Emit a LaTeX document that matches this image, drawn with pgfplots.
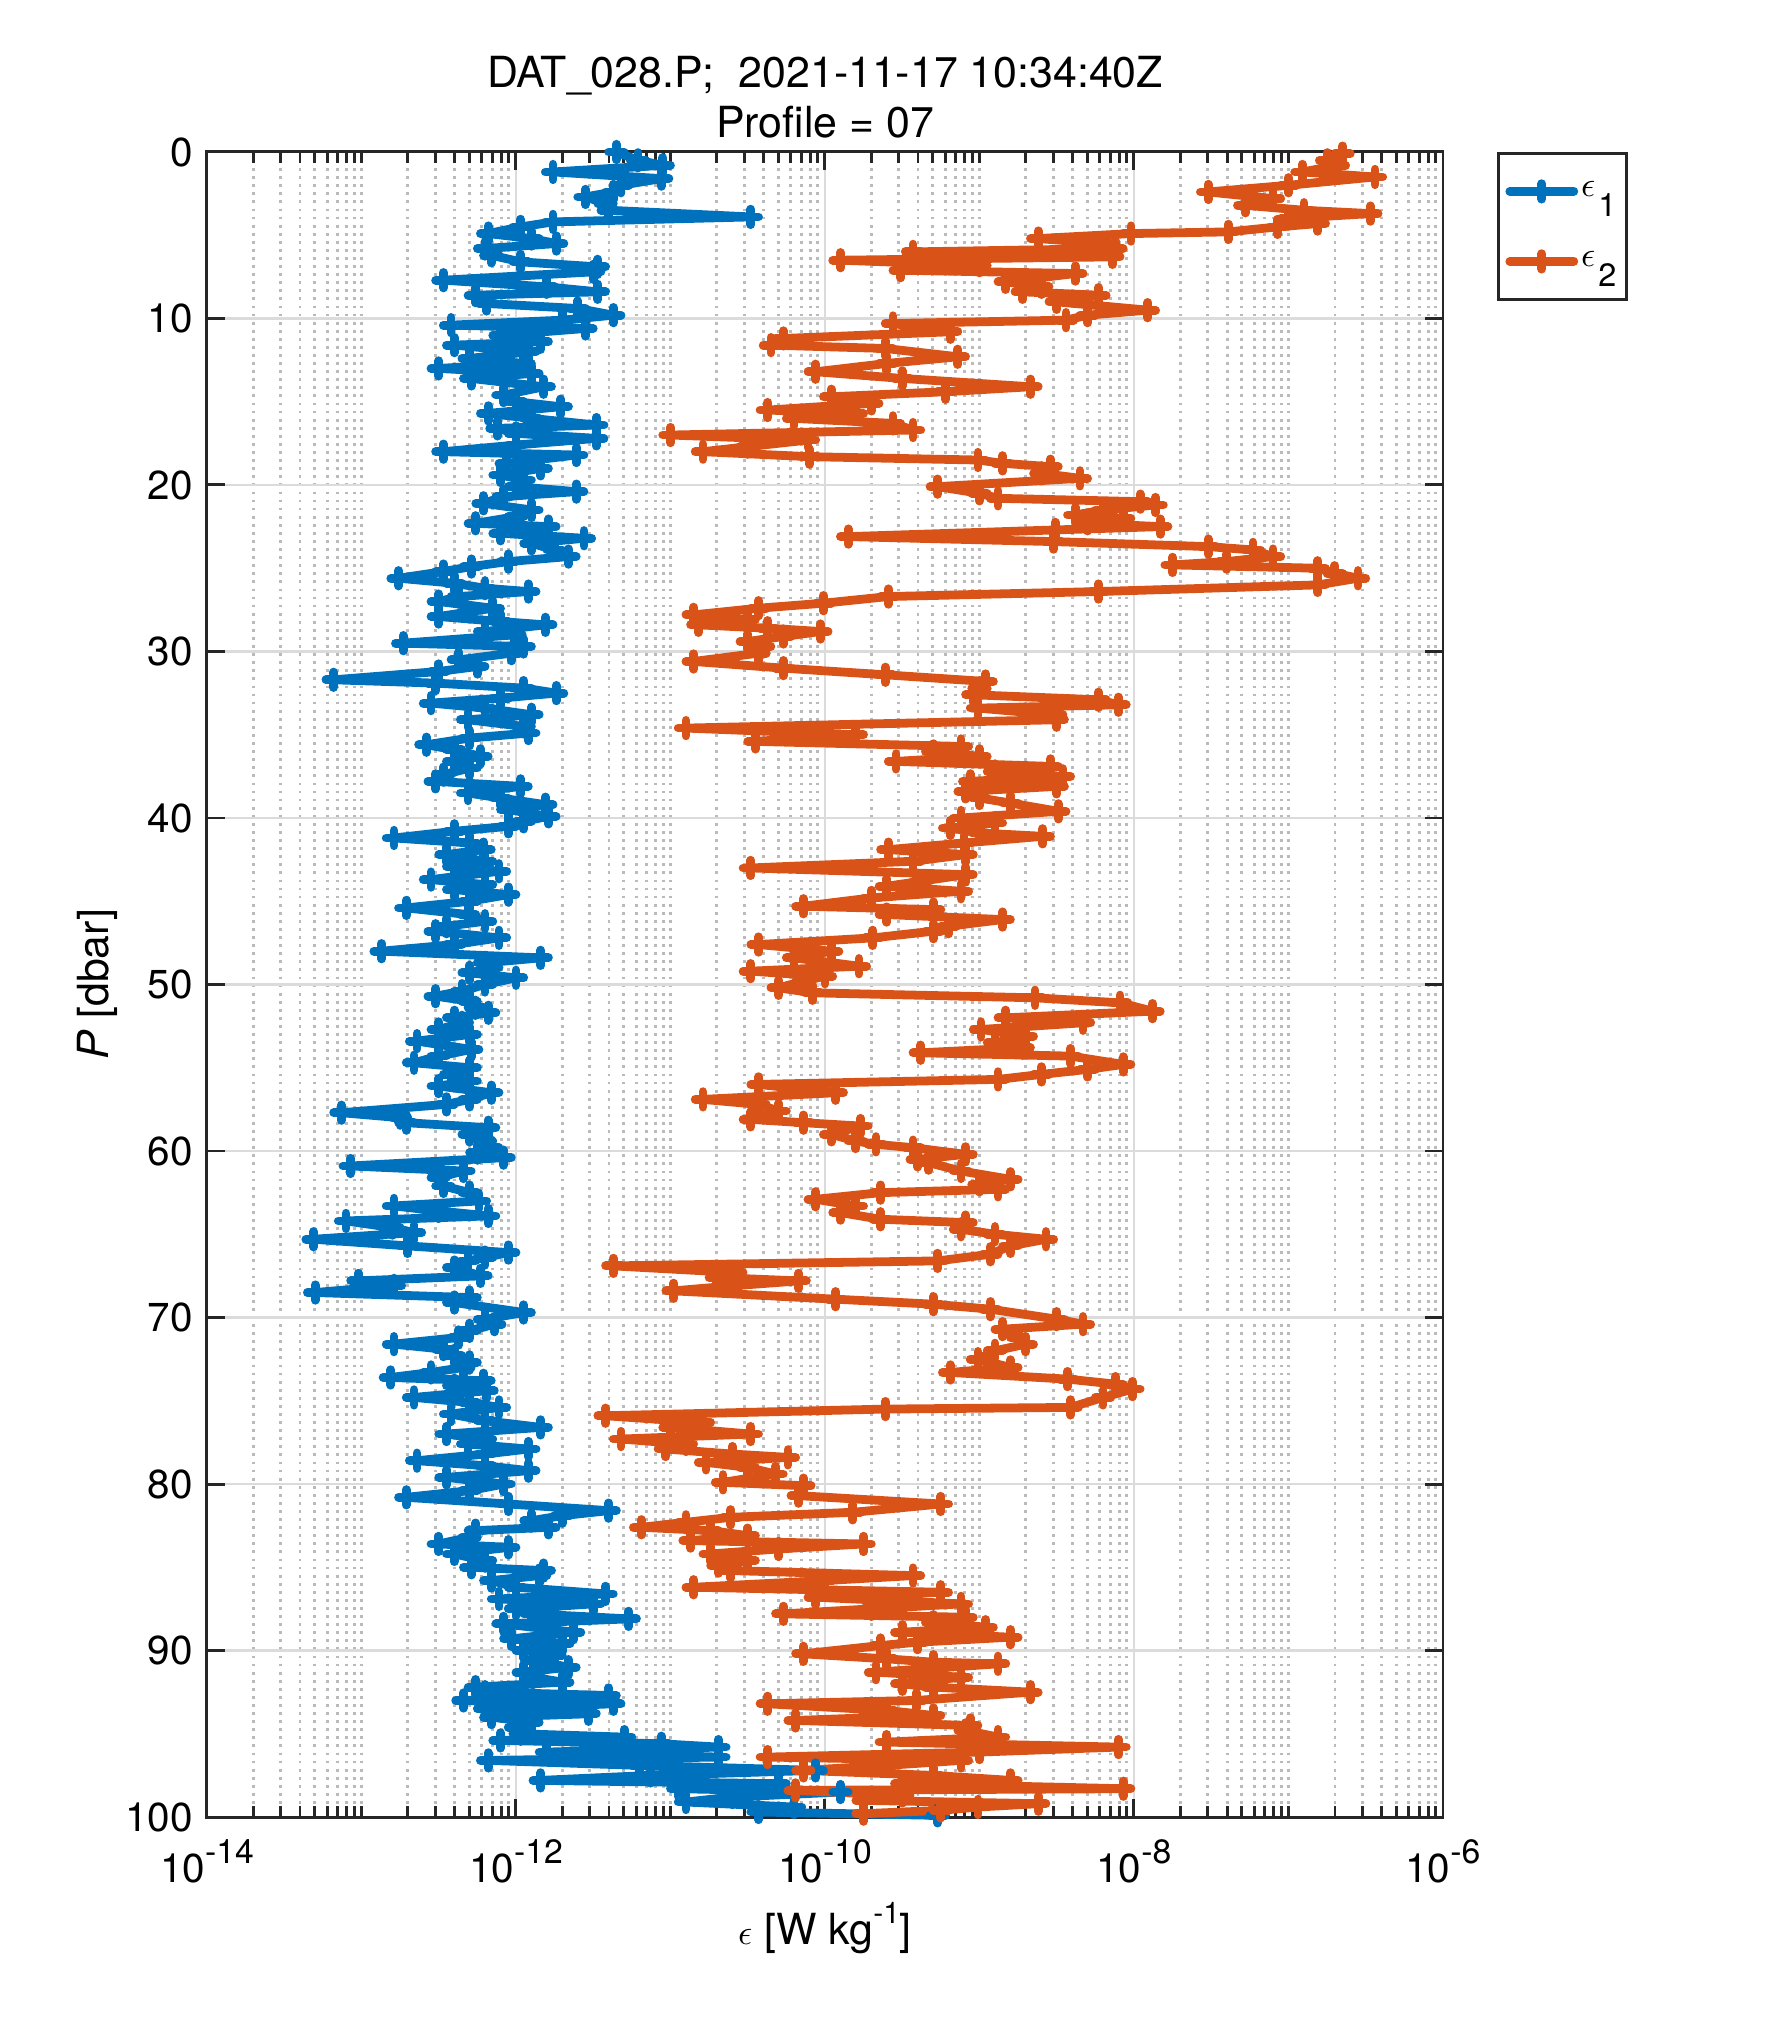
\documentclass[border=0pt]{standalone}
\usepackage{pgfplots}
\pgfplotsset{compat=1.18}
\usepackage{pgfplotstable}
\usepackage{fontspec}
\setmainfont{TeX Gyre Heros}
\definecolor{mblue}{RGB}{0,114,189}
\definecolor{morange}{RGB}{217,83,25}
\definecolor{axgray}{RGB}{38,38,38}
\newcommand{\tl}[1]{10\raisebox{0.19cm}{\fontsize{9.6}{9.6}\selectfont #1}}
\newcommand{\leg}[1]{{\fontsize{10}{10}\selectfont$\epsilon$}\hspace{0.03cm}\raisebox{-0.2cm}{\fontsize{9.2}{9.2}\selectfont #1}}

\pgfplotstableread{
P L
0.0 -11.35
0.5 -11.21
0.8 -11.05
1.2 -11.76
1.6 -11.06
2.0 -11.32
2.4 -11.37
2.7 -11.55
3.1 -11.42
3.5 -11.40
3.9 -10.48
4.2 -11.76
4.5 -11.97
4.9 -12.18
5.2 -11.90
5.5 -11.74
5.8 -12.20
6.2 -12.16
6.6 -11.97
6.9 -11.47
7.2 -11.50
7.7 -12.47
8.1 -11.80
8.4 -11.47
8.6 -12.26
9.1 -12.19
9.4 -11.60
9.8 -11.37
10.1 -11.70
10.4 -12.42
10.6 -11.55
11.0 -12.10
11.4 -11.84
11.6 -12.40
12.0 -11.92
12.4 -12.30
12.7 -11.95
13.0 -12.50
13.3 -11.90
13.6 -12.29
14.1 -11.82
14.6 -12.08
15.0 -12.00
15.3 -11.71
15.7 -12.18
16.0 -11.90
16.4 -11.48
16.6 -12.12
16.9 -12.00
17.2 -11.48
17.6 -12.00
18.0 -12.47
18.2 -11.61
18.7 -12.06
19.0 -11.84
19.4 -12.10
19.7 -11.95
20.1 -12.00
20.4 -11.61
20.7 -12.08
21.1 -12.21
21.5 -11.90
21.9 -12.00
22.3 -12.26
22.5 -11.79
22.9 -12.10
23.2 -11.56
23.5 -11.90
23.9 -11.75
24.3 -11.66
24.6 -12.05
24.9 -12.29
25.2 -12.47
25.6 -12.76
25.9 -12.40
26.2 -12.20
26.4 -11.92
26.7 -12.37
27.0 -12.50
27.4 -12.15
27.9 -12.50
28.2 -12.10
28.4 -11.81
28.8 -12.20
29.0 -12.01
29.5 -12.73
29.7 -11.95
30.1 -12.03
30.5 -12.37
30.9 -12.25
31.2 -12.50
31.7 -13.18
31.9 -12.52
32.2 -11.95
32.5 -11.74
32.8 -12.10
33.1 -12.55
33.4 -12.20
33.8 -11.90
34.1 -12.31
34.5 -11.95
34.9 -11.92
35.2 -12.30
35.6 -12.58
35.9 -12.40
36.3 -12.23
36.6 -12.40
37.0 -12.30
37.4 -12.47
37.8 -12.52
38.1 -11.97
38.5 -12.31
38.8 -12.10
39.2 -11.81
39.5 -12.05
39.9 -11.79
40.2 -11.95
40.5 -12.05
40.8 -12.40
41.2 -12.79
41.5 -12.30
41.9 -12.21
42.2 -12.45
42.6 -12.20
42.9 -12.40
43.2 -12.11
43.7 -12.55
44.0 -12.20
44.3 -12.40
44.6 -12.05
45.0 -12.30
45.4 -12.71
45.8 -12.31
46.2 -12.20
46.5 -12.45
46.8 -12.52
47.2 -12.11
47.6 -12.40
48.0 -12.87
48.4 -11.84
48.7 -12.20
49.0 -12.16
49.3 -12.30
49.6 -12.00
50.0 -12.20
50.4 -12.35
50.7 -12.52
51.0 -12.30
51.4 -12.26
51.7 -12.18
52.0 -12.40
52.3 -12.35
52.7 -12.50
53.0 -12.30
53.4 -12.64
53.9 -12.29
54.3 -12.50
54.7 -12.66
55.0 -12.30
55.4 -12.42
55.8 -12.30
56.1 -12.50
56.5 -12.16
56.9 -12.30
57.2 -12.45
57.7 -13.13
58.0 -12.75
58.3 -12.71
58.6 -12.18
59.0 -12.30
59.4 -12.20
59.8 -12.16
60.1 -12.25
60.4 -12.08
60.9 -13.07
61.2 -12.34
61.6 -12.50
62.1 -12.47
62.5 -12.30
63.0 -12.24
63.3 -12.79
63.6 -12.50
63.9 -12.18
64.2 -13.10
64.6 -12.80
64.9 -12.66
65.3 -13.31
65.7 -12.70
66.1 -12.05
66.4 -12.20
66.6 -12.31
67.0 -12.40
67.5 -12.23
67.8 -13.02
68.1 -12.79
68.5 -13.30
68.8 -12.30
69.1 -12.40
69.7 -11.95
70.1 -12.20
70.4 -12.14
70.8 -12.30
71.2 -12.37
71.6 -12.79
71.9 -12.47
72.3 -12.40
72.7 -12.30
73.0 -12.34
73.3 -12.55
73.6 -12.81
73.8 -12.21
74.1 -12.40
74.4 -12.19
74.8 -12.66
75.1 -12.30
75.4 -12.11
75.8 -12.42
76.2 -12.20
76.6 -11.84
77.0 -12.45
77.3 -12.20
77.6 -12.31
77.9 -11.92
78.2 -12.20
78.6 -12.64
78.9 -12.20
79.2 -11.92
79.6 -12.45
80.0 -12.08
80.4 -12.30
80.8 -12.71
81.2 -12.05
81.6 -11.40
81.9 -11.70
82.2 -11.90
82.6 -11.79
82.8 -12.26
83.2 -12.30
83.6 -12.50
83.8 -12.05
84.2 -12.40
84.6 -12.20
85.0 -12.29
85.2 -11.82
85.5 -11.85
85.8 -12.16
86.2 -12.00
86.6 -11.42
86.9 -12.11
87.2 -11.50
87.5 -12.00
87.8 -11.90
88.1 -11.27
88.4 -12.08
88.7 -11.80
88.9 -11.63
89.3 -12.03
89.6 -11.70
90.0 -11.95
90.3 -11.75
90.6 -11.89
91.0 -11.66
91.3 -11.95
91.6 -11.89
91.9 -11.70
92.2 -12.26
92.5 -12.20
92.7 -11.40
93.0 -12.34
93.2 -11.37
93.5 -12.20
93.8 -11.53
94.0 -12.16
94.3 -11.90
94.6 -12.00
95.0 -11.97
95.2 -11.30
95.4 -12.10
95.6 -11.06
95.8 -10.69
96.1 -11.80
96.4 -10.69
96.6 -12.18
96.9 -11.20
97.2 -10.06
97.5 -11.13
97.8 -11.84
98.0 -10.30
98.3 -10.95
98.5 -9.90
98.8 -10.60
99.1 -10.90
99.4 -10.20
99.7 -10.43
99.9 -9.27
}\epsone

\pgfplotstableread{
P L
0.1 -6.65
0.5 -6.75
0.8 -6.68
1.2 -6.91
1.5 -6.44
2.0 -7.00
2.4 -7.52
2.8 -7.10
3.2 -7.28
3.5 -6.90
3.7 -6.47
4.0 -7.00
4.3 -6.81
4.5 -7.07
4.8 -7.39
4.9 -8.02
5.2 -8.62
5.5 -8.20
5.8 -8.12
6.0 -9.43
6.3 -8.14
6.5 -9.90
6.8 -9.00
7.1 -9.51
7.3 -8.38
7.8 -8.83
8.1 -8.60
8.4 -8.72
8.6 -8.23
9.0 -8.50
9.5 -7.91
9.8 -8.30
10.1 -8.44
10.3 -9.56
10.8 -9.19
11.2 -10.27
11.6 -10.35
11.8 -9.61
12.3 -9.14
12.7 -9.60
13.2 -10.06
13.6 -9.50
14.1 -8.67
14.4 -9.22
14.7 -9.96
15.1 -9.70
15.5 -10.37
15.7 -9.80
16.0 -10.20
16.3 -9.56
16.7 -9.43
17.0 -11.00
17.3 -10.11
17.7 -10.50
18.0 -10.79
18.3 -10.10
18.5 -9.01
18.7 -8.85
18.9 -8.54
19.3 -8.60
19.6 -8.35
20.1 -9.27
20.5 -9.00
20.8 -8.88
21.0 -7.96
21.2 -7.86
21.5 -8.20
21.8 -8.38
22.0 -8.07
22.3 -8.30
22.5 -7.83
22.7 -8.51
23.1 -9.85
23.4 -8.52
23.7 -7.52
23.9 -7.23
24.3 -7.10
24.6 -7.40
24.8 -7.75
25.0 -6.81
25.3 -6.70
25.6 -6.55
26.0 -6.81
26.4 -8.23
26.7 -9.59
27.1 -10.01
27.4 -10.43
27.8 -10.85
28.1 -10.50
28.4 -10.82
28.6 -10.37
28.8 -10.03
29.1 -10.27
29.4 -10.50
29.7 -10.40
30.1 -10.43
30.6 -10.85
31.0 -10.27
31.4 -9.61
31.8 -8.96
32.2 -9.00
32.6 -9.04
32.9 -8.23
33.2 -8.10
33.4 -9.01
33.8 -8.51
34.1 -8.50
34.6 -10.90
35.0 -9.80
35.4 -10.45
35.7 -9.12
36.0 -9.30
36.3 -9.00
36.6 -9.54
36.9 -8.54
37.2 -8.90
37.5 -8.46
37.8 -9.06
38.1 -8.50
38.4 -9.09
38.8 -9.00
39.1 -8.80
39.6 -8.49
40.0 -9.12
40.3 -8.90
40.6 -9.19
40.9 -9.00
41.1 -8.59
41.5 -9.10
41.9 -9.59
42.2 -9.09
42.6 -9.43
43.0 -10.48
43.4 -9.09
43.8 -9.38
44.1 -9.60
44.4 -9.12
44.8 -9.70
45.3 -10.14
45.5 -9.30
45.8 -9.60
46.1 -8.85
46.5 -9.20
46.8 -9.30
47.2 -9.69
47.6 -10.43
48.0 -9.96
48.4 -10.20
48.9 -9.78
49.2 -10.48
49.5 -10.00
49.8 -10.14
50.2 -10.30
50.5 -10.08
50.8 -8.64
51.1 -8.09
51.6 -7.88
52.0 -8.83
52.3 -8.33
52.7 -8.99
53.1 -8.70
53.5 -8.90
53.8 -8.72
54.1 -9.38
54.3 -8.41
54.8 -8.07
55.1 -8.30
55.4 -8.60
55.7 -8.88
56.0 -10.43
56.5 -9.93
56.9 -10.79
57.2 -10.43
57.6 -10.30
58.1 -10.48
58.3 -10.14
58.5 -9.77
59.0 -9.96
59.4 -9.80
59.6 -9.67
59.8 -9.43
60.2 -9.09
60.5 -9.40
60.7 -9.33
61.2 -9.12
61.7 -8.80
62.0 -9.00
62.3 -8.88
62.5 -9.64
62.9 -10.06
63.3 -9.80
63.7 -9.90
64.1 -9.64
64.3 -9.09
64.7 -9.12
65.0 -8.90
65.3 -8.57
65.7 -8.80
66.2 -8.93
66.6 -9.27
66.9 -11.37
67.3 -10.58
67.6 -10.70
67.8 -10.17
68.1 -10.60
68.4 -10.98
68.9 -9.93
69.2 -9.30
69.5 -8.93
70.1 -8.50
70.4 -8.33
70.7 -8.85
71.2 -8.75
71.6 -8.70
72.0 -8.90
72.5 -9.01
73.0 -8.80
73.3 -9.19
73.7 -8.43
74.0 -8.12
74.3 -8.01
74.8 -8.20
75.4 -8.41
75.5 -9.61
75.9 -11.42
76.3 -10.79
76.6 -11.00
77.0 -10.48
77.3 -11.32
77.6 -10.90
77.9 -11.03
78.2 -10.60
78.4 -10.24
78.7 -10.77
79.0 -10.50
79.4 -10.32
79.9 -10.66
80.1 -10.14
80.7 -10.17
81.2 -9.25
81.7 -9.82
82.0 -10.61
82.3 -10.90
82.6 -11.19
82.8 -10.74
83.1 -10.50
83.4 -10.87
83.6 -9.75
83.9 -10.30
84.2 -10.74
84.6 -10.50
84.9 -10.69
85.2 -10.61
85.5 -9.43
85.8 -10.00
86.2 -10.85
86.5 -9.25
86.8 -10.06
87.2 -9.12
87.5 -9.70
87.8 -10.27
88.0 -9.09
88.3 -9.30
88.6 -8.96
88.9 -9.50
89.2 -8.80
89.5 -9.40
89.7 -9.64
90.2 -10.14
90.5 -9.60
90.7 -9.30
90.8 -8.88
91.3 -9.67
91.6 -9.12
92.0 -9.50
92.2 -9.30
92.5 -8.67
93.0 -9.41
93.2 -10.37
93.6 -9.60
93.9 -9.30
94.2 -10.19
94.5 -9.06
94.8 -9.09
95.2 -8.88
95.5 -9.60
95.8 -8.10
96.1 -9.00
96.4 -10.37
96.6 -9.12
96.9 -9.60
97.2 -10.14
97.5 -9.30
97.8 -8.80
98.0 -9.50
98.3 -8.07
98.4 -10.19
98.7 -9.50
99.0 -9.75
99.2 -8.62
99.4 -9.01
99.6 -9.25
99.8 -9.75
}\epstwo

\begin{document}
\begin{tikzpicture}[font=\fontsize{11.5}{13.8}\selectfont]
\useasboundingbox (0,0) rectangle (17.72,20.42);
\begin{axis}[
  at={(2.07cm,2.25cm)}, anchor=south west,
  scale only axis, width=12.36cm, height=16.65cm,
  xmode=log, xmin=1e-14, xmax=1e-6,
  ymin=0, ymax=100, y dir=reverse,
  xtick={1e-14,1e-12,1e-10,1e-8,1e-6},
  xticklabels={\tl{-14},\tl{-12},\tl{-10},\tl{-8},\tl{-6}},
  minor xtick={2e-14,3e-14,4e-14,5e-14,6e-14,7e-14,8e-14,9e-14,1e-13,2e-13,3e-13,4e-13,5e-13,6e-13,7e-13,8e-13,9e-13,2e-12,3e-12,4e-12,5e-12,6e-12,7e-12,8e-12,9e-12,1e-11,2e-11,3e-11,4e-11,5e-11,6e-11,7e-11,8e-11,9e-11,2e-10,3e-10,4e-10,5e-10,6e-10,7e-10,8e-10,9e-10,1e-9,2e-9,3e-9,4e-9,5e-9,6e-9,7e-9,8e-9,9e-9,2e-8,3e-8,4e-8,5e-8,6e-8,7e-8,8e-8,9e-8,1e-7,2e-7,3e-7,4e-7,5e-7,6e-7,7e-7,8e-7,9e-7},
  ytick={0,10,...,100},
  /pgf/number format/assume math mode=true,
  xticklabel style={anchor=base, yshift=-0.65cm},
  yticklabel style={anchor=east, xshift=-0.02cm},
  tick align=inside, xtick pos=both, ytick pos=both,
  major tick length=0.18cm, minor tick length=0.11cm,
  every tick/.style={axgray, line width=0.85pt},
  axis line style={axgray, line width=0.85pt},
  xmajorgrids, ymajorgrids, xminorgrids,
  major grid style={color=black!14, line width=0.8pt},
  minor grid style={color=black!27, line width=0.85pt, dash pattern=on 0.8pt off 1.5pt},
  clip=false,
  legend style={at={(1.0437,1.0)}, anchor=north west, draw=axgray, line width=0.8pt,
    fill=white, inner xsep=0.07cm, inner ysep=0.03cm,
    nodes={inner xsep=0.03cm, inner ysep=0pt},
    font=\fontsize{11.5}{13.8}\selectfont},
  legend cell align=left,
  legend image code/.code={\path[draw=none,fill=none] (0cm,-0.35cm) rectangle (0.64cm,0.35cm); \draw[mark repeat=2,mark phase=2,#1] plot coordinates {(0cm,0cm) (0.32cm,0cm) (0.64cm,0cm)};},
]
\addplot[mblue, line width=2.5pt, line join=round, line cap=round, mark=+, mark size=2.2pt]
  table[x expr=10^(\thisrow{L}), y=P]{\epsone};
\addlegendentry{\leg{1}}
\addplot[morange, line width=2.5pt, line join=round, line cap=round, mark=+, mark size=2.2pt]
  table[x expr=10^(\thisrow{L}), y=P]{\epstwo};
\addlegendentry{\leg{2}}
\end{axis}
\begin{scope}[font=\fontsize{12.2}{14.6}\selectfont]
\node[anchor=base] at (8.25,19.54) {DAT\_028.P;\ \ 2021-11-17 10:34:40Z};
\node[anchor=base] at (8.25,19.04) {Profile = 07};
\node[anchor=base] at (8.25,0.97) {{\fontsize{10.4}{10.4}\selectfont$\epsilon$} [W kg\raisebox{0.21cm}{\fontsize{8.5}{8.5}\selectfont -1}]};
\node[rotate=90] at (0.97,10.575) {\textit{P} [dbar]};
\end{scope}
\end{tikzpicture}
\end{document}
